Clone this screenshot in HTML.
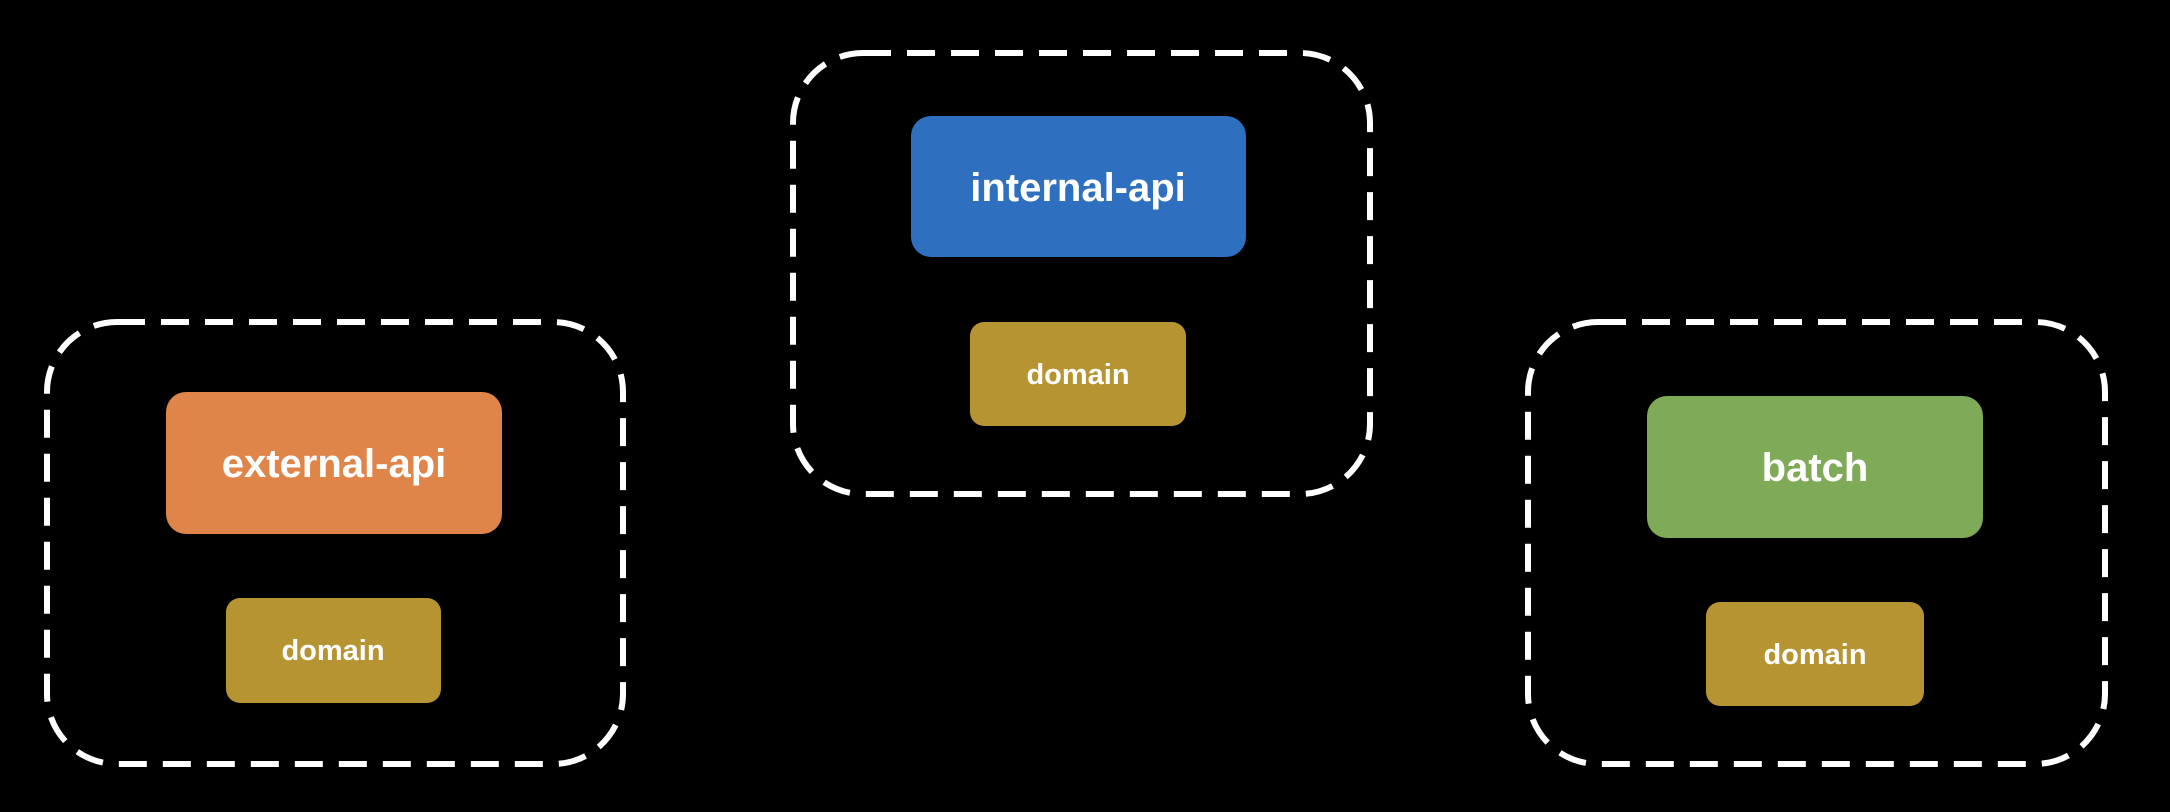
<!DOCTYPE html>
<html><head><style>
html,body{margin:0;padding:0;background:#000;}
svg{display:block}
text{font-family:"Liberation Sans",sans-serif;font-weight:bold;fill:#fff;text-anchor:middle;dominant-baseline:central}
</style></head><body>
<svg width="2170" height="812" viewBox="0 0 2170 812">
<rect width="2170" height="812" fill="#000"/>
<g fill="none" stroke="#fff" stroke-width="6" stroke-dasharray="28 16">
<rect x="47" y="322" width="576" height="442" rx="70"/>
<rect x="793" y="53" width="577" height="441" rx="70"/>
<rect x="1528" y="322" width="577" height="442" rx="70"/>
</g>
<rect x="166" y="392" width="336" height="142" rx="20" fill="#E0854A"/>
<text x="334" y="464" font-size="40">external-api</text>
<rect x="226" y="598" width="215" height="105" rx="14" fill="#B79432"/>
<text x="333" y="651" font-size="29">domain</text>
<rect x="911" y="116" width="335" height="141" rx="20" fill="#2F6FBF"/>
<text x="1078" y="188" font-size="40">internal-api</text>
<rect x="970" y="322" width="216" height="104" rx="14" fill="#B79432"/>
<text x="1078" y="375" font-size="29">domain</text>
<rect x="1647" y="396" width="336" height="142" rx="20" fill="#7FAA57"/>
<text x="1815" y="468" font-size="40">batch</text>
<rect x="1706" y="602" width="218" height="104" rx="14" fill="#B79432"/>
<text x="1815" y="655" font-size="29">domain</text>
</svg>
</body></html>
